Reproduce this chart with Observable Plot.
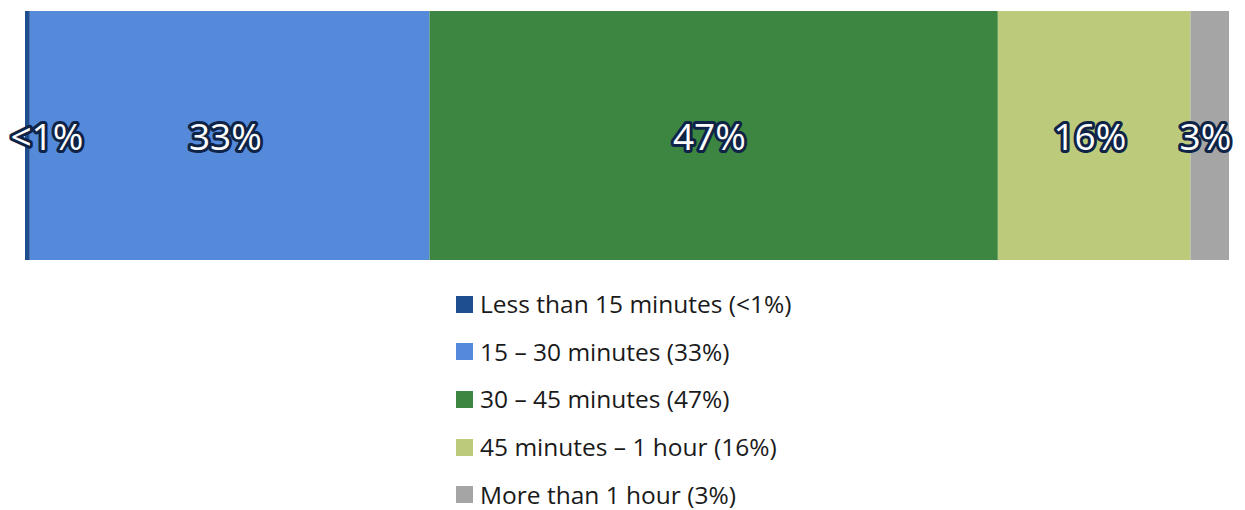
<!DOCTYPE html>
<html>
<head>
<meta charset="utf-8">
<script src="https://cdn.jsdelivr.net/npm/d3@7"></script>
<script src="https://cdn.jsdelivr.net/npm/@observablehq/plot@0.6"></script>
<style>
  html, body { margin: 0; padding: 0; background: #fff; }
  #chart svg { display: block; }
  #legend { margin-left: 456px; margin-top: 21px; font-family: "Open Sans", "Noto Sans", sans-serif; font-size: 24.5px; color: #1a1a1a; }
  .row { height: 26px; line-height: 26px; margin-bottom: 21.7px; display: flex; align-items: center; }
  .row:last-child { margin-bottom: 0; }
  .sw { width: 17px; height: 17px; margin-right: 7px; flex: none; }
</style>
</head>
<body>
<div id="chart"></div>
<div id="legend"></div>
<script>
const categories = ["Less than 15 minutes", "15 – 30 minutes", "30 – 45 minutes", "45 minutes – 1 hour", "More than 1 hour"];
const values = [0.4, 33.2, 47.2, 16.0, 3.2];
const labels = ["<1%", "33%", "47%", "16%", "3%"];
const colors = ["#1F4E8F", "#558ADB", "#3D8641", "#BBCB7B", "#A5A5A5"];

const data = categories.map((c, i) => ({cat: c, value: values[i], label: labels[i], idx: i}));

const textOpts = {
  fill: "white",
  stroke: "#0f2346",
  strokeWidth: 6,
  strokeLinejoin: "round",
  paintOrder: "stroke",
  fontSize: 37,
  fontFamily: "Open Sans, Noto Sans, sans-serif",
  frameAnchor: "middle",
  dy: 2
};

const chart = Plot.plot({
  width: 1245,
  height: 270,
  marginLeft: 25,
  marginRight: 16,
  marginTop: 11,
  marginBottom: 10,
  x: {domain: [0, 100], axis: null},
  color: {domain: categories, range: colors},
  style: {background: "white"},
  marks: [
    Plot.barX(data, Plot.stackX({x: "value", fill: "cat", order: null})),
    Plot.text(data, Plot.stackX({x: "value", text: "label", order: null, filter: d => d.idx > 0, ...textOpts})),
    Plot.text(data, Plot.stackX({x: "value", text: "label", order: null, filter: d => d.idx === 0, dx: 19, ...textOpts}))
  ]
});
document.getElementById("chart").appendChild(chart);

const legend = document.getElementById("legend");
data.forEach((d, i) => {
  const row = document.createElement("div");
  row.className = "row";
  const sw = document.createElement("span");
  sw.className = "sw";
  sw.style.background = colors[i];
  const t = document.createElement("span");
  t.textContent = `${d.cat} (${d.label})`;
  row.appendChild(sw);
  row.appendChild(t);
  legend.appendChild(row);
});
</script>
</body>
</html>
